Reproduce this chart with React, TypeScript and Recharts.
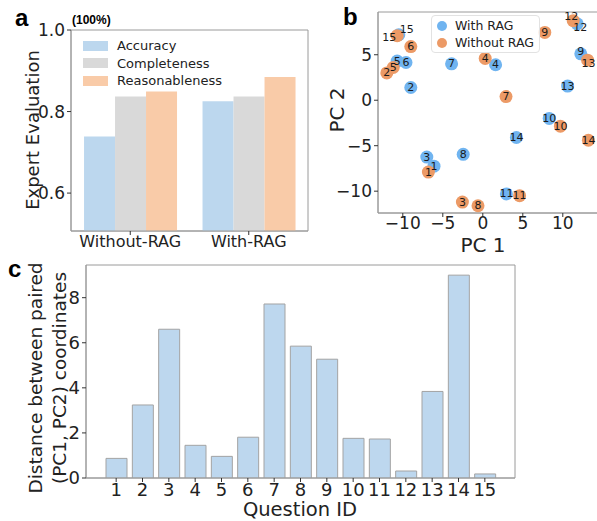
import React from 'react'
import { BarChart, Bar, XAxis, YAxis, CartesianGrid, ScatterChart, Scatter } from 'recharts'

// panel a
const groups = ['Without-RAG', 'With-RAG']
const accuracy = [0.739, 0.825]
const completeness = [0.837, 0.837]
const reasonableness = [0.849, 0.885]

// panel b (PCA coordinates per question)
const questionIds = [1, 2, 3, 4, 5, 6, 7, 8, 9, 10, 11, 12, 13, 14, 15]
const withRagPC1 = [-6.1, -9.0, -7.0, 1.6, -10.7, -9.6, -3.9, -2.45, 12.25, 8.3, 2.95, 11.8, 10.6, 4.2, -10.5]
const withRagPC2 = [-7.25, 1.4, -6.25, 3.9, 4.3, 4.15, 4.0, -5.95, 5.1, -2.0, -10.3, 8.4, 1.55, -4.1, 7.2]
const withoutRagPC1 = [-6.8, -12.0, -2.55, 0.3, -11.2, -9.0, 2.9, -0.6, 7.75, 9.7, 4.6, 11.3, 13.1, 13.2, -10.7]
const withoutRagPC2 = [-7.9, 3.0, -11.2, 4.6, 3.6, 5.9, 0.4, -11.6, 7.45, -2.85, -10.5, 8.75, 4.4, -4.4, 7.1]

// panel c
const pairDistance = [0.87, 3.24, 6.6, 1.45, 0.96, 1.81, 7.72, 5.85, 5.27, 1.76, 1.73, 0.31, 3.84, 9.0, 0.18]

const FONT = '"DejaVu Sans", sans-serif'
const BLUE = '#70b4f0'
const ORANGE = '#ec9a66'
const FRAME = '#9a9a9a'

const seriesA = [
  { key: 'accuracy', name: 'Accuracy', color: '#bcd7ee' },
  { key: 'completeness', name: 'Completeness', color: '#d9d9d9' },
  { key: 'reasonableness', name: 'Reasonableness', color: '#f9cba8' },
]

// label nudges for overlapping points (px)
const labelShift: Record<string, [number, number]> = {
  'w15': [8, -5],
  'o15': [-8, 2],
  'o12': [-2, -4],
  'w12': [3, 4],
  'w9': [0, -2],
  'o13': [1, 3],
}

const groupData = groups.map((g, i) => ({
  group: g,
  accuracy: accuracy[i],
  completeness: completeness[i],
  reasonableness: reasonableness[i],
}))

const withRag = questionIds.map((id, i) => ({ id, x: withRagPC1[i], y: withRagPC2[i], key: 'w' + id }))
const withoutRag = questionIds.map((id, i) => ({ id, x: withoutRagPC1[i], y: withoutRagPC2[i], key: 'o' + id }))
const distData = questionIds.map((id, i) => ({ id: String(id), dist: pairDistance[i] }))

const frameH = ({ offset }: any) => [offset.top, offset.top + offset.height]
const frameV = ({ offset }: any) => [offset.left, offset.left + offset.width]
const minus = (v: number) => (v < 0 ? '\u2212' + Math.abs(v) : String(v))

const tick = (size: number) => ({ fontSize: size, fill: '#222', fontFamily: FONT })

function Title({ x, y, size, rotate, children }: any) {
  return (
    <div
      style={{
        position: 'absolute',
        left: x,
        top: y,
        transform: `translate(-50%, -50%)${rotate ? ' rotate(-90deg)' : ''}`,
        whiteSpace: 'nowrap',
        fontSize: size,
        fontFamily: FONT,
        color: '#222',
        lineHeight: 1,
      }}
    >
      {children}
    </div>
  )
}

function Letter({ x, y, children }: any) {
  return (
    <div
      style={{
        position: 'absolute',
        left: x,
        top: y,
        fontSize: 24,
        fontWeight: 'bold',
        fontFamily: '"Liberation Sans", Arial, sans-serif',
        lineHeight: 1,
      }}
    >
      {children}
    </div>
  )
}

const dot = (color: string) => (props: any) => {
  const { cx, cy } = props
  if (cx == null || cy == null) return <g />
  return <circle cx={cx} cy={cy} r={6.5} fill={color} />
}

const idText = (props: any) => {
  const { cx, cy, payload } = props
  if (cx == null || cy == null) return <g />
  const s = labelShift[payload.key] || [0, 0]
  return (
    <text
      x={cx + s[0]}
      y={cy + s[1]}
      textAnchor="middle"
      dominantBaseline="central"
      fontSize={11}
      fontFamily={FONT}
      fill="#1a1a1a"
    >
      {payload.id}
    </text>
  )
}

function LegendA() {
  return (
    <div style={{ position: 'absolute', left: 83, top: 37, fontFamily: FONT, fontSize: 13, color: '#222' }}>
      {seriesA.map((s) => (
        <div key={s.key} style={{ display: 'flex', alignItems: 'center', height: 17.5, whiteSpace: 'nowrap' }}>
          <span style={{ display: 'inline-block', width: 25, height: 10, background: s.color, marginRight: 9 }} />
          {s.name}
        </div>
      ))}
    </div>
  )
}

function LegendB() {
  const items = [
    { label: 'With RAG', color: BLUE },
    { label: 'Without RAG', color: ORANGE },
  ]
  return (
    <div
      style={{
        position: 'absolute',
        left: 431,
        top: 15,
        fontFamily: FONT,
        fontSize: 12.5,
        color: '#222',
        border: '1px solid #e2e2e2',
        borderRadius: 4,
        background: 'rgba(255,255,255,0.8)',
        padding: '1px 5px',
        whiteSpace: 'nowrap',
      }}
    >
      {items.map((it) => (
        <div key={it.label} style={{ display: 'flex', alignItems: 'center', height: 17 }}>
          <span
            style={{ display: 'inline-block', width: 10, height: 10, borderRadius: 5, background: it.color, marginRight: 8 }}
          />
          {it.label}
        </div>
      ))}
    </div>
  )
}

export default function App() {
  return (
    <div
      style={{
        position: 'absolute',
        left: 0,
        top: 0,
        width: 597,
        height: 521,
        overflow: 'hidden',
        background: '#fff',
        fontFamily: FONT,
      }}
    >
      {/* a */}
      <div style={{ position: 'absolute', left: 0, top: 0 }}>
        <BarChart
          width={320}
          height={260}
          data={groupData}
          margin={{ top: 30, right: 12, bottom: 0, left: 0 }}
          barCategoryGap="11%"
          barGap={0}
        >
          <CartesianGrid stroke={FRAME} horizontalCoordinatesGenerator={frameH} verticalCoordinatesGenerator={frameV} />
          <XAxis
            dataKey="group"
            height={29}
            tick={tick(16)}
            tickSize={4}
            tickMargin={1}
            tickLine={{ stroke: '#333' }}
            axisLine={{ stroke: FRAME }}
            interval={0}
          />
          <YAxis
            type="number"
            width={71}
            domain={[0.507, 1.0]}
            ticks={[0.6, 0.8, 1.0]}
            allowDataOverflow
            tickFormatter={(v: number) => v.toFixed(1)}
            tick={tick(17)}
            tickSize={4}
            tickLine={{ stroke: '#333' }}
            axisLine={{ stroke: FRAME }}
          />
          {seriesA.map((s) => (
            <Bar key={s.key} dataKey={s.key} name={s.name} fill={s.color} isAnimationActive={false} />
          ))}
        </BarChart>
      </div>
      <LegendA />

      {/* b */}
      <div style={{ position: 'absolute', left: 320, top: 0 }}>
        <ScatterChart width={300} height={250} margin={{ top: 12, right: 22, bottom: 0, left: 0 }}>
          <CartesianGrid stroke={FRAME} horizontalCoordinatesGenerator={frameH} verticalCoordinatesGenerator={frameV} />
          <XAxis
            type="number"
            dataKey="x"
            height={37}
            domain={[-13.1, 14.4]}
            ticks={[-10, -5, 0, 5, 10]}
            allowDataOverflow
            tickFormatter={minus}
            tick={tick(17)}
            tickSize={4}
            tickMargin={0}
            tickLine={{ stroke: '#333' }}
            axisLine={{ stroke: FRAME }}
          />
          <YAxis
            type="number"
            dataKey="y"
            width={58}
            domain={[-12.4, 9.7]}
            ticks={[-10, -5, 0, 5]}
            allowDataOverflow
            tickFormatter={minus}
            tick={tick(17)}
            tickSize={4}
            tickLine={{ stroke: '#333' }}
            axisLine={{ stroke: FRAME }}
          />
          <Scatter name="With RAG" data={withRag} shape={dot(BLUE)} isAnimationActive={false} />
          <Scatter name="Without RAG" data={withoutRag} shape={dot(ORANGE)} isAnimationActive={false} />
          <Scatter data={withRag} shape={idText} legendType="none" isAnimationActive={false} />
          <Scatter data={withoutRag} shape={idText} legendType="none" isAnimationActive={false} />
        </ScatterChart>
      </div>
      <LegendB />

      {/* c */}
      <div style={{ position: 'absolute', left: 0, top: 250 }}>
        <BarChart width={597} height={271} data={distData} margin={{ top: 15, right: 82, bottom: 0, left: 0 }}>
          <CartesianGrid stroke={FRAME} horizontalCoordinatesGenerator={frameH} verticalCoordinatesGenerator={frameV} />
          <XAxis
            dataKey="id"
            height={43}
            padding={{ left: 17, right: 17 }}
            interval={0}
            tick={tick(18)}
            tickSize={4}
            tickMargin={1}
            tickLine={{ stroke: '#333' }}
            axisLine={{ stroke: FRAME }}
          />
          <YAxis
            type="number"
            width={86}
            domain={[0, 9.45]}
            ticks={[0, 2, 4, 6, 8]}
            allowDataOverflow
            tick={tick(18)}
            tickSize={4}
            tickLine={{ stroke: '#333' }}
            axisLine={{ stroke: FRAME }}
          />
          <Bar dataKey="dist" barSize={21} fill="#bdd7ee" stroke="#a3a3a3" strokeWidth={1} isAnimationActive={false} />
        </BarChart>
      </div>

      <Letter x={15} y={6}>a</Letter>
      <div
        style={{
          position: 'absolute',
          left: 72,
          top: 14,
          fontSize: 12,
          fontWeight: 'bold',
          fontFamily: '"Liberation Sans", Arial, sans-serif',
          lineHeight: 1,
        }}
      >
        (100%)
      </div>
      <Letter x={343} y={5}>b</Letter>
      <Letter x={8} y={257}>c</Letter>

      <Title x={33} y={130} size={18} rotate>
        Expert Evaluation
      </Title>
      <Title x={337} y={110} size={20} rotate>
        PC 2
      </Title>
      <Title x={483} y={245} size={20}>
        PC 1
      </Title>
      <Title x={36} y={378} size={18.5} rotate>
        Distance between paired
      </Title>
      <Title x={60} y={378} size={18.5} rotate>
        (PC1, PC2) coordinates
      </Title>
      <Title x={300} y={510} size={19.5}>
        Question ID
      </Title>
    </div>
  )
}
